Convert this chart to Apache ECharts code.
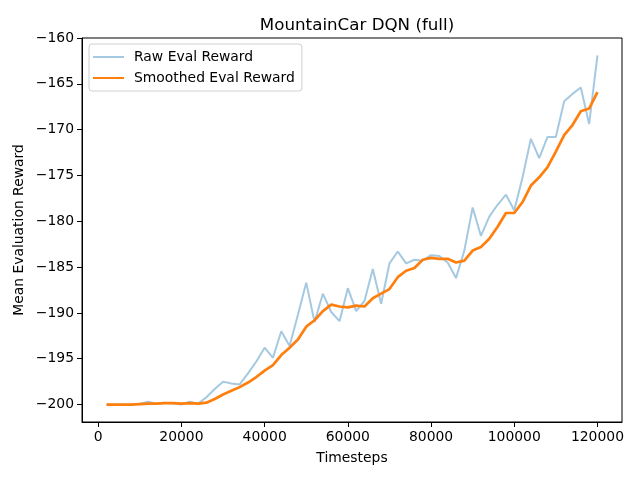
<!DOCTYPE html>
<html>
<head>
<meta charset="utf-8">
<script src="https://cdn.jsdelivr.net/npm/echarts@6/dist/echarts.min.js"></script>
<style>html,body{margin:0;padding:0;background:#fff}#c{width:640px;height:480px}</style>
</head>
<body>
<div id="c"></div>
<script>
const timesteps = [2000,4000,6000,8000,10000,12000,14000,16000,18000,20000,
  22000,24000,26000,28000,30000,32000,34000,36000,38000,40000,
  42000,44000,46000,48000,50000,52000,54000,56000,58000,60000,
  62000,64000,66000,68000,70000,72000,74000,76000,78000,80000,
  82000,84000,86000,88000,90000,92000,94000,96000,98000,100000,
  102000,104000,106000,108000,110000,112000,114000,116000,118000,120000];
const rawReward = [-200,-200,-200,-200,-199.9,-199.7,-199.9,-199.8,-199.9,-200.0,
  -199.7,-199.9,-199.2,-198.3,-197.5,-197.7,-197.8,-196.6,-195.3,-193.8,
  -194.9,-192.0,-193.6,-190.2,-186.7,-191.0,-187.9,-189.9,-190.9,-187.3,
  -189.8,-188.7,-185.2,-189.0,-184.6,-183.3,-184.6,-184.2,-184.3,-183.7,
  -183.8,-184.5,-186.2,-183.2,-178.5,-181.6,-179.5,-178.2,-177.1,-178.8,
  -175.2,-171.0,-173.1,-170.8,-170.8,-166.9,-166.1,-165.4,-169.4,-161.9];
const smoothReward = [-200,-200,-200,-200,-199.95,-199.9,-199.9,-199.85,-199.85,-199.9,
  -199.85,-199.9,-199.8,-199.4,-198.9,-198.5,-198.1,-197.6,-197.0,-196.3,
  -195.7,-194.6,-193.8,-192.9,-191.5,-190.8,-189.8,-189.1,-189.3,-189.4,
  -189.2,-189.3,-188.4,-187.9,-187.4,-186.1,-185.4,-185.1,-184.2,-184.0,
  -184.1,-184.1,-184.5,-184.3,-183.2,-182.8,-181.9,-180.6,-179.1,-179.1,
  -177.9,-176.1,-175.2,-174.1,-172.4,-170.6,-169.5,-168.0,-167.7,-165.9];
const xTicks = [0,20000,40000,60000,80000,100000,120000];
const yTicks = [-200,-195,-190,-185,-180,-175,-170,-165,-160];
const seriesNames = ['Raw Eval Reward','Smoothed Eval Reward'];
const titleText = 'MountainCar DQN (full)';

const FONT = 'DejaVu Sans';
const rawColor = 'rgba(31,119,180,0.4)';
const smoothColor = '#ff7f0e';
const fmt = v => String(v).replace('-', '\u2212');

const chart = echarts.init(document.getElementById('c'), null, {renderer:'canvas'});
const axisCommon = {
  axisLine:{show:true,onZero:false,lineStyle:{color:'#000',width:1}},
  axisTick:{show:true,inside:false,length:5,lineStyle:{color:'#000',width:1}},
  splitLine:{show:false},
  nameTextStyle:{fontFamily:FONT,fontSize:13.9,color:'#000'}
};
chart.setOption({
  animation:false,
  backgroundColor:'#fff',
  title:{text:titleText,left:352,textAlign:'center',top:12,
    textStyle:{fontFamily:FONT,fontSize:16.7,fontWeight:'normal',color:'#000'}},
  grid:{left:82,right:18,top:38,bottom:58,show:true,borderColor:'#000',borderWidth:1,backgroundColor:'#fff'},
  legend:{orient:'vertical',left:89,top:44,
    padding:[5,7,5,4],itemGap:5,itemWidth:31,itemHeight:2,
    backgroundColor:'#fff',borderColor:'#d0d0d0',borderWidth:1,borderRadius:3,
    textStyle:{fontFamily:FONT,fontSize:13.9,color:'#000',lineHeight:16,padding:[0,0,0,5]},
    data:[{name:seriesNames[0],icon:'rect',itemStyle:{color:rawColor}},
          {name:seriesNames[1],icon:'rect',itemStyle:{color:smoothColor}}]},
  xAxis:Object.assign({}, axisCommon, {
    type:'value',min:-3900,max:125900,
    name:'Timesteps',nameLocation:'middle',nameGap:29,nameMoveOverlap:false,
    axisTick:Object.assign({}, axisCommon.axisTick, {customValues:xTicks}),
    axisLabel:{customValues:xTicks,margin:8,fontFamily:FONT,fontSize:13.9,color:'#000',formatter:fmt}
  }),
  yAxis:Object.assign({}, axisCommon, {
    type:'value',min:-201.905,max:-160,
    name:'Mean Evaluation Reward',nameLocation:'middle',nameGap:56,nameRotate:90,nameMoveOverlap:false,
    axisTick:Object.assign({}, axisCommon.axisTick, {customValues:yTicks}),
    axisLabel:{customValues:yTicks,margin:8,fontFamily:FONT,fontSize:13.9,color:'#000',formatter:fmt}
  }),
  series:[
    {name:seriesNames[0],type:'line',showSymbol:false,symbol:'none',
      data:timesteps.map((t,i)=>[t,rawReward[i]]),
      lineStyle:{color:rawColor,width:2},itemStyle:{color:rawColor}},
    {name:seriesNames[1],type:'line',showSymbol:false,symbol:'none',
      data:timesteps.map((t,i)=>[t,smoothReward[i]]),
      lineStyle:{color:smoothColor,width:2.7},itemStyle:{color:smoothColor}}
  ]
});
</script>
</body>
</html>
